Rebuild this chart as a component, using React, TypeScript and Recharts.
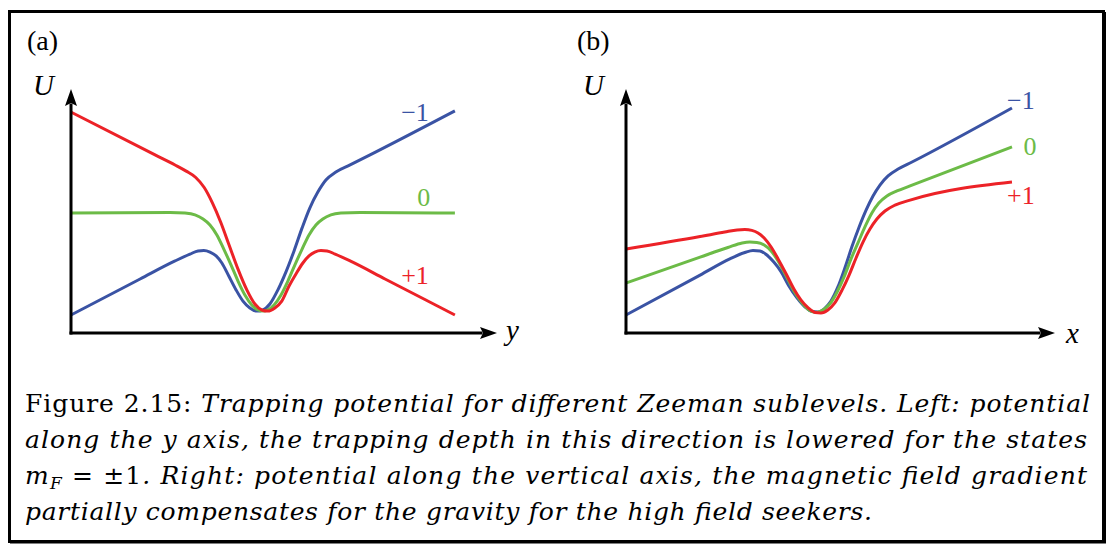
import { LineChart, Line, XAxis, YAxis, ReferenceDot, ReferenceLine } from "recharts";

// panel (a): potential along y, x in arbitrary units, u = potential
const aMinus = [
  { x: 0, u: 0.79 }, { x: 1.8, u: 2.37 }, { x: 2.71, u: 3.16 }, { x: 3.1, u: 3.46 },
  { x: 3.31, u: 3.6 }, { x: 3.46, u: 3.62 }, { x: 3.62, u: 3.55 }, { x: 3.78, u: 3.38 },
  { x: 3.93, u: 3.07 }, { x: 4.11, u: 2.5 }, { x: 4.3, u: 1.89 }, { x: 4.48, u: 1.4 },
  { x: 4.66, u: 1.1 }, { x: 4.84, u: 0.96 }, { x: 5.0, u: 1.01 }, { x: 5.18, u: 1.27 },
  { x: 5.39, u: 1.89 }, { x: 5.6, u: 2.68 }, { x: 5.81, u: 3.6 }, { x: 6.02, u: 4.61 },
  { x: 6.22, u: 5.48 }, { x: 6.43, u: 6.18 }, { x: 6.64, u: 6.71 }, { x: 6.9, u: 7.06 },
  { x: 7.27, u: 7.37 }, { x: 7.79, u: 7.81 }, { x: 10, u: 9.74 },
];
const aZero = [
  { x: 0, u: 5.26 }, { x: 2.58, u: 5.29 }, { x: 2.97, u: 5.26 }, { x: 3.23, u: 5.18 },
  { x: 3.44, u: 5.0 }, { x: 3.62, u: 4.74 }, { x: 3.8, u: 4.3 }, { x: 3.98, u: 3.68 },
  { x: 4.17, u: 2.98 }, { x: 4.35, u: 2.28 }, { x: 4.53, u: 1.67 }, { x: 4.71, u: 1.23 },
  { x: 4.87, u: 1.01 }, { x: 5.0, u: 0.96 }, { x: 5.13, u: 1.01 }, { x: 5.29, u: 1.23 },
  { x: 5.47, u: 1.67 }, { x: 5.65, u: 2.28 }, { x: 5.83, u: 2.98 }, { x: 6.02, u: 3.68 },
  { x: 6.2, u: 4.3 }, { x: 6.38, u: 4.74 }, { x: 6.56, u: 5.0 }, { x: 6.77, u: 5.18 },
  { x: 7.03, u: 5.26 }, { x: 7.53, u: 5.29 }, { x: 10, u: 5.26 },
];
const aPlus = [
  { x: 0, u: 9.69 }, { x: 2.19, u: 7.81 }, { x: 2.71, u: 7.37 }, { x: 3.0, u: 7.1 },
  { x: 3.25, u: 6.82 }, { x: 3.47, u: 6.38 }, { x: 3.68, u: 5.72 }, { x: 3.9, u: 4.86 },
  { x: 4.12, u: 3.85 }, { x: 4.35, u: 2.8 }, { x: 4.58, u: 1.89 }, { x: 4.79, u: 1.27 },
  { x: 4.97, u: 1.01 }, { x: 5.13, u: 0.96 }, { x: 5.31, u: 1.1 }, { x: 5.49, u: 1.4 },
  { x: 5.68, u: 2.06 }, { x: 5.86, u: 2.59 }, { x: 6.04, u: 3.07 }, { x: 6.2, u: 3.38 },
  { x: 6.35, u: 3.55 }, { x: 6.51, u: 3.62 }, { x: 6.67, u: 3.6 }, { x: 6.88, u: 3.46 },
  { x: 7.27, u: 3.16 }, { x: 8.18, u: 2.37 }, { x: 10, u: 0.79 },
];

// panel (b): potential along the vertical axis
const bMinus = [
  { x: 0, u: 0.79 }, { x: 1.92, u: 2.54 }, { x: 2.69, u: 3.25 }, { x: 3.08, u: 3.53 },
  { x: 3.29, u: 3.62 }, { x: 3.47, u: 3.6 }, { x: 3.65, u: 3.42 }, { x: 3.83, u: 3.11 },
  { x: 4.02, u: 2.68 }, { x: 4.22, u: 2.06 }, { x: 4.43, u: 1.54 }, { x: 4.64, u: 1.14 },
  { x: 4.82, u: 0.94 }, { x: 4.97, u: 0.92 }, { x: 5.13, u: 1.05 }, { x: 5.31, u: 1.4 },
  { x: 5.49, u: 2.02 }, { x: 5.67, u: 2.85 }, { x: 5.85, u: 3.77 }, { x: 6.04, u: 4.65 },
  { x: 6.22, u: 5.39 }, { x: 6.4, u: 6.01 }, { x: 6.58, u: 6.49 }, { x: 6.79, u: 6.89 },
  { x: 7.05, u: 7.19 }, { x: 7.41, u: 7.5 }, { x: 10, u: 9.87 },
];
const bZero = [
  { x: 0, u: 2.19 }, { x: 1.92, u: 3.33 }, { x: 2.64, u: 3.75 }, { x: 3.01, u: 3.95 },
  { x: 3.21, u: 3.99 }, { x: 3.39, u: 3.97 }, { x: 3.58, u: 3.86 }, { x: 3.76, u: 3.6 },
  { x: 3.94, u: 3.16 }, { x: 4.15, u: 2.5 }, { x: 4.35, u: 1.84 }, { x: 4.56, u: 1.32 },
  { x: 4.74, u: 1.01 }, { x: 4.92, u: 0.9 }, { x: 5.1, u: 1.01 }, { x: 5.28, u: 1.27 },
  { x: 5.47, u: 1.8 }, { x: 5.65, u: 2.46 }, { x: 5.83, u: 3.25 }, { x: 6.01, u: 3.95 },
  { x: 6.19, u: 4.65 }, { x: 6.37, u: 5.26 }, { x: 6.55, u: 5.7 }, { x: 6.76, u: 6.01 },
  { x: 7.02, u: 6.23 }, { x: 7.36, u: 6.45 }, { x: 10, u: 8.16 },
];
const bPlus = [
  { x: 0, u: 3.68 }, { x: 1.92, u: 4.23 }, { x: 2.56, u: 4.43 }, { x: 2.88, u: 4.52 },
  { x: 3.08, u: 4.54 }, { x: 3.26, u: 4.5 }, { x: 3.42, u: 4.39 }, { x: 3.58, u: 4.17 },
  { x: 3.76, u: 3.77 }, { x: 3.94, u: 3.25 }, { x: 4.15, u: 2.59 }, { x: 4.35, u: 1.93 },
  { x: 4.53, u: 1.45 }, { x: 4.72, u: 1.1 }, { x: 4.9, u: 0.9 }, { x: 5.05, u: 0.88 },
  { x: 5.23, u: 1.01 }, { x: 5.41, u: 1.32 }, { x: 5.6, u: 1.89 }, { x: 5.78, u: 2.54 },
  { x: 5.96, u: 3.29 }, { x: 6.14, u: 3.99 }, { x: 6.32, u: 4.56 }, { x: 6.5, u: 5.0 },
  { x: 6.71, u: 5.35 }, { x: 6.97, u: 5.61 }, { x: 7.36, u: 5.83 }, { x: 10, u: 6.62 },
];

const levelNames = ["\u22121", "0", "+1"];
const colors = ["#3a53a4", "#6cbb47", "#ec2227"];

// where the sublevel names sit, in data units
const aLabelPos = [{ x: 8.96, u: 9.69 }, { x: 9.19, u: 5.96 }, { x: 8.96, u: 2.54 }];
const bLabelPos = [{ x: 10.23, u: 10.22 }, { x: 10.47, u: 8.2 }, { x: 10.23, u: 6.05 }];

const serif = "'Liberation Serif', 'DejaVu Serif', serif";
const captionFont = "'DejaVu Serif', serif";

const AxisArrow = (props: any) => (
  <line
    x1={props.x1}
    y1={props.y1}
    x2={props.x2}
    y2={props.y2}
    stroke="#000"
    strokeWidth={3}
    strokeLinecap="square"
    markerEnd="url(#arrowHead)"
  />
);

interface PanelProps {
  left: number;
  width: number;
  axisX: number;
  plotWidth: number;
  xMax: number;
  series: { x: number; u: number }[][];
  labelPos: { x: number; u: number }[];
}

const Panel = ({ left, width, axisX, plotWidth, xMax, series, labelPos }: PanelProps) => (
  <div style={{ position: "absolute", left, top: 0 }}>
    <LineChart
      width={width}
      height={370}
      margin={{ top: 105, left: axisX, right: width - axisX - plotWidth, bottom: 37 }}
    >
      <XAxis dataKey="x" type="number" domain={[0, xMax]} hide />
      <YAxis type="number" domain={[0, 10]} hide />
      {series.map((s, i) => (
        <Line
          key={levelNames[i]}
          data={s}
          dataKey="u"
          type="monotone"
          stroke={colors[i]}
          strokeWidth={3}
          dot={false}
          activeDot={false}
          isAnimationActive={false}
        />
      ))}
      <ReferenceLine segment={[{ x: 0, y: 0 }, { x: xMax, y: 0 }]} shape={AxisArrow} ifOverflow="visible" />
      <ReferenceLine segment={[{ x: 0, y: 0 }, { x: 0, y: 10 }]} shape={AxisArrow} ifOverflow="visible" />
      {labelPos.map((p, i) => (
        <ReferenceDot
          key={"l" + i}
          x={p.x}
          y={p.u}
          r={0}
          fill="none"
          stroke="none"
          ifOverflow="visible"
          label={{ value: levelNames[i], position: "center", fill: colors[i], fontSize: 26, fontFamily: serif }}
        />
      ))}
    </LineChart>
  </div>
);

const App = () => (
  <div style={{ position: "absolute", left: 0, top: 0, width: 1107, height: 545, background: "#fff" }}>
    <svg width={1107} height={545} style={{ position: "absolute", left: 0, top: 0 }}>
      <defs>
        <marker
          id="arrowHead"
          markerUnits="userSpaceOnUse"
          markerWidth={18}
          markerHeight={14}
          refX={1}
          refY={7}
          orient="auto"
        >
          <path d="M0,1 L17,7 L0,13 L3,7 z" fill="#000" />
        </marker>
      </defs>
      <rect x={9.5} y={11.5} width={1094} height={530} fill="none" stroke="#000" strokeWidth={3} />
      <line x1={1105} y1={12} x2={1105} y2={543} stroke="#000" strokeWidth={2} />
      <line x1={10} y1={542.5} x2={1106} y2={542.5} stroke="#000" strokeWidth={2} />

      <g fontFamily={serif} fill="#000">
        <text x={27} y={50} fontSize={28}>(a)</text>
        <text x={33} y={95} fontSize={29} fontStyle="italic">U</text>
        <text x={506} y={340} fontSize={29} fontStyle="italic">y</text>
        <text x={577} y={50} fontSize={28}>(b)</text>
        <text x={583} y={95} fontSize={29} fontStyle="italic">U</text>
        <text x={1066} y={343} fontSize={29} fontStyle="italic">x</text>
      </g>

      <g fontFamily={captionFont} fontSize={25} fill="#000">
        <text x={25} y={412} textLength={1065} lengthAdjust="spacing">
          <tspan>Figure 2.15: </tspan>
          <tspan fontStyle="italic">Trapping potential for different Zeeman sublevels. Left: potential</tspan>
        </text>
        <text x={25} y={448} textLength={1062} lengthAdjust="spacing" fontStyle="italic">
          along the y axis, the trapping depth in this direction is lowered for the states
        </text>
        <text x={25} y={484} textLength={1062} lengthAdjust="spacing">
          <tspan fontStyle="italic">m</tspan>
          <tspan fontStyle="italic" fontSize={17} dy={5}>F</tspan>
          <tspan dy={-5}> = ±1</tspan>
          <tspan fontStyle="italic">. Right: potential along the vertical axis, the magnetic field gradient</tspan>
        </text>
        <text x={25} y={520} textLength={847} lengthAdjust="spacing" fontStyle="italic">
          partially compensates for the gravity for the high field seekers.
        </text>
      </g>
    </svg>

    <Panel left={0} width={560} axisX={71} plotWidth={410} xMax={10.68} series={[aMinus, aZero, aPlus]} labelPos={aLabelPos} />
    <Panel left={560} width={547} axisX={66} plotWidth={413} xMax={10.7} series={[bMinus, bZero, bPlus]} labelPos={bLabelPos} />
  </div>
);

export default App;
